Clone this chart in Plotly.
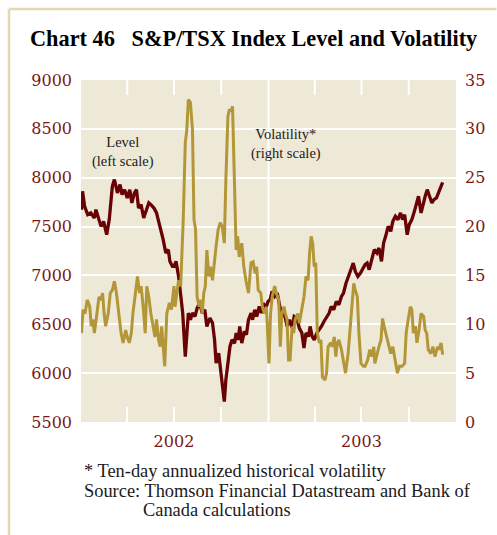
import plotly.graph_objects as go

# S&P/TSX composite index level (left scale)
level_dates = [
    "2002-01-02", "2002-01-04", "2002-01-08", "2002-01-14", "2002-01-20", "2002-01-27",
    "2002-01-30", "2002-02-04", "2002-02-09", "2002-02-14", "2002-02-20", "2002-02-25",
    "2002-03-03", "2002-03-07", "2002-03-13", "2002-03-18", "2002-03-22", "2002-03-27",
    "2002-04-01", "2002-04-06", "2002-04-10", "2002-04-15", "2002-04-19", "2002-04-23",
    "2002-04-28", "2002-05-03", "2002-05-07", "2002-05-13", "2002-05-17", "2002-05-23",
    "2002-05-28", "2002-06-04", "2002-06-10", "2002-06-15", "2002-06-20", "2002-06-23",
    "2002-06-28", "2002-07-01", "2002-07-05", "2002-07-10", "2002-07-14", "2002-07-18",
    "2002-07-23", "2002-07-26", "2002-07-29", "2002-08-02", "2002-08-06", "2002-08-11",
    "2002-08-15", "2002-08-20", "2002-08-25", "2002-08-30", "2002-09-03", "2002-09-09",
    "2002-09-14", "2002-09-18", "2002-09-21", "2002-09-26", "2002-10-01", "2002-10-04",
    "2002-10-07", "2002-10-10", "2002-10-14", "2002-10-18", "2002-10-22", "2002-10-27",
    "2002-10-30", "2002-11-03", "2002-11-06", "2002-11-10", "2002-11-15", "2002-11-19",
    "2002-11-23", "2002-11-28", "2002-12-01", "2002-12-05", "2002-12-09", "2002-12-14",
    "2002-12-18", "2002-12-22", "2002-12-26", "2002-12-31", "2003-01-04", "2003-01-08",
    "2003-01-13", "2003-01-18", "2003-01-23", "2003-01-27", "2003-02-01", "2003-02-06",
    "2003-02-11", "2003-02-16", "2003-02-20", "2003-02-25", "2003-03-02", "2003-03-07",
    "2003-03-11", "2003-03-15", "2003-03-20", "2003-03-23", "2003-03-27", "2003-03-31",
    "2003-04-05", "2003-04-10", "2003-04-14", "2003-04-19", "2003-04-24", "2003-04-29",
    "2003-05-03", "2003-05-08", "2003-05-13", "2003-05-18", "2003-05-23", "2003-05-27",
    "2003-06-01", "2003-06-06", "2003-06-11", "2003-06-15", "2003-06-19", "2003-06-24",
    "2003-06-29", "2003-07-03", "2003-07-08", "2003-07-12", "2003-07-16", "2003-07-21",
    "2003-07-26", "2003-07-31", "2003-08-04", "2003-08-09", "2003-08-13", "2003-08-17",
    "2003-08-22", "2003-08-27", "2003-08-31", "2003-09-05", "2003-09-10", "2003-09-15",
    "2003-09-19", "2003-09-23", "2003-09-28", "2003-10-02", "2003-10-07", "2003-10-12",
    "2003-10-17", "2003-10-20", "2003-10-25", "2003-10-29", "2003-11-02", "2003-11-06",
    "2003-11-10", "2003-11-15", "2003-11-19", "2003-11-24", "2003-11-29", "2003-12-03",
    "2003-12-06",
]
level_values = [
    7673, 7861, 7707, 7622, 7640, 7588,
    7673, 7571, 7502, 7553, 7417, 7571,
    7912, 7981, 7844, 7930, 7827, 7878,
    7793, 7878, 7742, 7844, 7878, 7690,
    7724, 7588, 7656, 7742, 7724, 7690,
    7640, 7502, 7366, 7230, 7264, 7144,
    7092, 7092, 7144, 6990, 6820, 6615,
    6170, 6410, 6615, 6546, 6615, 6580,
    6666, 6717, 6615, 6649, 6478, 6564,
    6512, 6341, 6103, 6205, 6000, 5863,
    5709, 5932, 6103, 6273, 6341, 6307,
    6410, 6341, 6478, 6307, 6427, 6393,
    6546, 6615, 6546, 6649, 6580, 6683,
    6615, 6717, 6649, 6734, 6751, 6837,
    6785, 6820, 6683, 6580, 6615, 6478,
    6546, 6461, 6580, 6564, 6461, 6410,
    6256, 6410, 6375, 6478, 6375, 6341,
    6410, 6444, 6478, 6529, 6580, 6615,
    6683, 6649, 6734, 6700, 6785, 6820,
    6922, 6990, 7076, 7127, 7041, 6990,
    7025, 7059, 7110, 7127, 7059, 7161,
    7264, 7230, 7281, 7144, 7332, 7400,
    7502, 7451, 7553, 7605, 7571, 7640,
    7571, 7622, 7417, 7520, 7571, 7656,
    7776, 7810, 7640, 7742, 7810, 7878,
    7827, 7742, 7776, 7793, 7861, 7912,
    7953,
]

# Ten-day annualized historical volatility (right scale)
vol_dates = [
    "2002-01-02", "2002-01-03", "2002-01-05", "2002-01-09", "2002-01-13", "2002-01-18",
    "2002-01-21", "2002-01-24", "2002-01-27", "2002-02-01", "2002-02-05", "2002-02-09",
    "2002-02-12", "2002-02-15", "2002-02-18", "2002-02-23", "2002-02-27", "2002-03-03",
    "2002-03-07", "2002-03-11", "2002-03-16", "2002-03-20", "2002-03-24", "2002-03-29",
    "2002-04-01", "2002-04-05", "2002-04-09", "2002-04-12", "2002-04-17", "2002-04-21",
    "2002-04-25", "2002-04-28", "2002-05-02", "2002-05-06", "2002-05-09", "2002-05-13",
    "2002-05-17", "2002-05-21", "2002-05-25", "2002-05-28", "2002-06-01", "2002-06-04",
    "2002-06-07", "2002-06-10", "2002-06-13", "2002-06-17", "2002-06-22", "2002-06-26",
    "2002-07-01", "2002-07-03", "2002-07-06", "2002-07-10", "2002-07-14", "2002-07-19",
    "2002-07-23", "2002-07-26", "2002-07-29", "2002-08-02", "2002-08-06", "2002-08-09",
    "2002-08-12", "2002-08-15", "2002-08-19", "2002-08-22", "2002-08-25", "2002-08-28",
    "2002-08-31", "2002-09-03", "2002-09-07", "2002-09-10", "2002-09-14", "2002-09-17",
    "2002-09-21", "2002-09-25", "2002-09-29", "2002-10-03", "2002-10-07", "2002-10-10",
    "2002-10-14", "2002-10-17", "2002-10-20", "2002-10-23", "2002-10-27", "2002-10-30",
    "2002-11-02", "2002-11-05", "2002-11-10", "2002-11-14", "2002-11-18", "2002-11-23",
    "2002-11-28", "2002-12-02", "2002-12-06", "2002-12-09", "2002-12-12", "2002-12-17",
    "2002-12-20", "2002-12-24", "2002-12-28", "2003-01-02", "2003-01-05", "2003-01-08",
    "2003-01-13", "2003-01-16", "2003-01-21", "2003-01-24", "2003-01-27", "2003-01-31",
    "2003-02-03", "2003-02-06", "2003-02-09", "2003-02-12", "2003-02-16", "2003-02-19",
    "2003-02-22", "2003-02-27", "2003-03-02", "2003-03-07", "2003-03-11", "2003-03-15",
    "2003-03-19", "2003-03-22", "2003-03-25", "2003-03-28", "2003-03-31", "2003-04-03",
    "2003-04-06", "2003-04-10", "2003-04-13", "2003-04-16", "2003-04-21", "2003-04-24",
    "2003-04-27", "2003-05-02", "2003-05-05", "2003-05-09", "2003-05-12", "2003-05-15",
    "2003-05-18", "2003-05-23", "2003-05-27", "2003-05-31", "2003-06-05", "2003-06-09",
    "2003-06-13", "2003-06-16", "2003-06-19", "2003-06-23", "2003-06-26", "2003-06-30",
    "2003-07-05", "2003-07-08", "2003-07-13", "2003-07-17", "2003-07-21", "2003-07-25",
    "2003-07-27", "2003-07-31", "2003-08-04", "2003-08-08", "2003-08-11", "2003-08-14",
    "2003-08-19", "2003-08-23", "2003-08-27", "2003-08-31", "2003-09-04", "2003-09-09",
    "2003-09-13", "2003-09-18", "2003-09-23", "2003-09-26", "2003-09-30", "2003-10-04",
    "2003-10-07", "2003-10-10", "2003-10-14", "2003-10-17", "2003-10-21", "2003-10-25",
    "2003-10-30", "2003-11-02", "2003-11-05", "2003-11-08", "2003-11-13", "2003-11-17",
    "2003-11-21", "2003-11-26", "2003-11-29", "2003-12-03", "2003-12-06",
]
vol_values = [
    9.1, 10.5, 11.5, 11.1, 12.5, 11.8,
    9.8, 10.5, 9.1, 11.1, 12.8, 12.5,
    13.2, 11.1, 9.8, 11.1, 13.2, 13.5,
    14.4, 13.2, 11.1, 9.1, 8.1, 9.4,
    8.7, 8.1, 9.1, 11.1, 13.2, 14.9,
    13.2, 13.9, 11.8, 9.1, 13.9, 12.8,
    11.1, 9.8, 8.7, 10.5, 8.4, 7.7,
    9.8, 7.7, 5.7, 11.1, 12.2, 11.5,
    13.9, 11.8, 13.2, 14.5, 13.9, 20.7,
    28.6, 29.9, 33.0, 32.7, 29.9, 20.7,
    19.7, 12.8, 11.8, 12.5, 11.1, 13.2,
    13.9, 17.6, 14.9, 15.9, 14.5, 16.3,
    18.0, 19.7, 20.4, 20.0, 18.3, 24.8,
    31.3, 32.0, 31.8, 32.3, 24.8, 17.6,
    19.0, 16.9, 18.3, 15.9, 14.5, 13.2,
    16.3, 16.4, 15.2, 15.9, 13.5, 13.2,
    11.8, 11.1, 11.8, 6.0, 11.1, 12.8,
    13.9, 13.2, 12.5, 7.7, 11.1, 11.8,
    11.1, 10.5, 6.35, 6.35, 9.8, 9.1,
    10.5, 11.1, 10.1, 11.8, 12.8, 14.9,
    14.5, 17.3, 19.0, 18.3, 15.9, 16.3,
    9.1, 8.1, 8.4, 4.6, 4.3, 5.0,
    7.7, 8.1, 7.7, 8.7, 6.7, 8.1,
    8.4, 7.4, 6.0, 5.0, 7.0, 9.8,
    11.8, 14.2, 13.5, 12.8, 9.1, 6.0,
    5.7, 5.7, 6.35, 7.4, 6.7, 7.7,
    6.0, 7.0, 7.7, 8.4, 10.6, 9.8,
    8.7, 8.1, 7.0, 7.7, 6.35, 5.0,
    5.7, 5.7, 6.0, 9.1, 10.5, 11.8,
    11.5, 9.1, 9.8, 8.1, 9.4, 11.1,
    10.8, 9.4, 9.1, 7.4, 7.0, 7.7,
    6.7, 7.7, 7.4, 8.1, 6.9,
]

level_ticks = [5500, 6000, 6500, 7000, 7500, 8000, 8500, 9000]
vol_ticks = [0, 5, 10, 15, 20, 25, 30, 35]
year_ticks = ["2002-07-01", "2003-07-01"]
year_labels = ["2002", "2003"]
quarter_ticks = ["2002-04-01", "2002-10-01", "2003-04-01", "2003-10-01"]

W, H = 497, 535
ML, MR, MT, MB = 81, 36, 80, 113
PW, PH = W - ML - MR, H - MT - MB
TICK_LEN = 15

def px(x):
    return (x - ML) / PW

def py(y):
    return (H - MB - y) / PH

LEVEL_COLOR = "#680204"
VOL_COLOR = "#b39637"
AXIS_COLOR = "#7a1818"
BG = "#eee9d7"
FRAME = "#e2d8b2"

fig = go.Figure()
fig.add_trace(go.Scatter(x=vol_dates, y=vol_values, mode="lines", yaxis="y2",
                         line=dict(color=VOL_COLOR, width=3), name="Volatility"))
fig.add_trace(go.Scatter(x=level_dates, y=level_values, mode="lines",
                         line=dict(color=LEVEL_COLOR, width=3.3), name="Level"))

tick_font = dict(family="DejaVu Serif", size=16, color=AXIS_COLOR)
text_font = "Liberation Serif"

fig.update_layout(
    width=W, height=H,
    margin=dict(l=ML, r=MR, t=MT, b=MB),
    paper_bgcolor="white",
    plot_bgcolor=BG,
    showlegend=False,
    xaxis=dict(
        type="date", range=["2002-01-01", "2004-01-01"],
        tickmode="array", tickvals=year_ticks, ticktext=year_labels,
        ticks="inside", ticklen=TICK_LEN, tickwidth=2, tickcolor="white",
        showline=False, showgrid=False, zeroline=False,
        tickfont=tick_font, ticklabelstandoff=8,
        minor=dict(tickmode="array", tickvals=quarter_ticks, ticks="inside",
                   ticklen=TICK_LEN, tickwidth=2, tickcolor="white", showgrid=False),
    ),
    yaxis=dict(
        range=[5500, 9000], tickmode="array", tickvals=level_ticks,
        showgrid=True, gridcolor="white", gridwidth=2,
        zeroline=False, showline=False, ticks="",
        tickfont=tick_font, ticklabelstandoff=8,
    ),
    yaxis2=dict(
        range=[0, 35], tickmode="array", tickvals=vol_ticks,
        overlaying="y", side="right", showgrid=False,
        zeroline=False, showline=False, ticks="",
        tickfont=tick_font, ticklabelstandoff=8,
    ),
)

# start of 2003 marked with a full-height rule
fig.add_shape(type="line", xref="x", yref="paper", x0="2003-01-01", x1="2003-01-01",
              y0=0, y1=1, line=dict(color="white", width=2), layer="below")

# matching quarter ticks hanging from the top edge of the plot
for d in quarter_ticks + year_ticks:
    fig.add_shape(type="line", xref="x", yref="paper", x0=d, x1=d,
                  y0=1, y1=1 - TICK_LEN / PH, line=dict(color="white", width=2),
                  layer="below")

# page frame along the top and left edges
fig.add_shape(type="line", xref="paper", yref="paper", x0=px(8), x1=px(W + 5),
              y0=py(9), y1=py(9), line=dict(color=FRAME, width=2.5))
fig.add_shape(type="line", xref="paper", yref="paper", x0=px(8), x1=px(8),
              y0=py(9), y1=py(H + 5), line=dict(color=FRAME, width=2.5))

body = dict(family=text_font, color="#1a1a1a")
annotations = [
    dict(text="<b>Chart 46&nbsp;&nbsp;&nbsp;S&amp;P/TSX Index Level and Volatility</b>",
         x=px(27), y=py(38), xanchor="left", yanchor="middle",
         font=dict(family=text_font, size=22.3, color="black")),
    dict(text="Level<br>(left scale)", x=px(123.5), y=py(152),
         xanchor="center", yanchor="middle", align="center",
         font=dict(size=14.5, **body)),
    dict(text="Volatility*<br>(right scale)", x=px(288.5), y=py(144),
         xanchor="center", yanchor="middle", align="center",
         font=dict(size=14.5, **body)),
    dict(text="* Ten-day annualized historical volatility", x=px(82), y=py(470.5),
         xanchor="left", yanchor="middle", font=dict(size=18.4, **body)),
    dict(text="Source: Thomson Financial Datastream and Bank of", x=px(82), y=py(490.5),
         xanchor="left", yanchor="middle", font=dict(size=18.4, **body)),
    dict(text="Canada calculations", x=px(141.5), y=py(510),
         xanchor="left", yanchor="middle", font=dict(size=18.4, **body)),
]
for a in annotations:
    a.update(xref="paper", yref="paper", showarrow=False)
fig.update_layout(annotations=annotations)

fig.write_html("out.html")
